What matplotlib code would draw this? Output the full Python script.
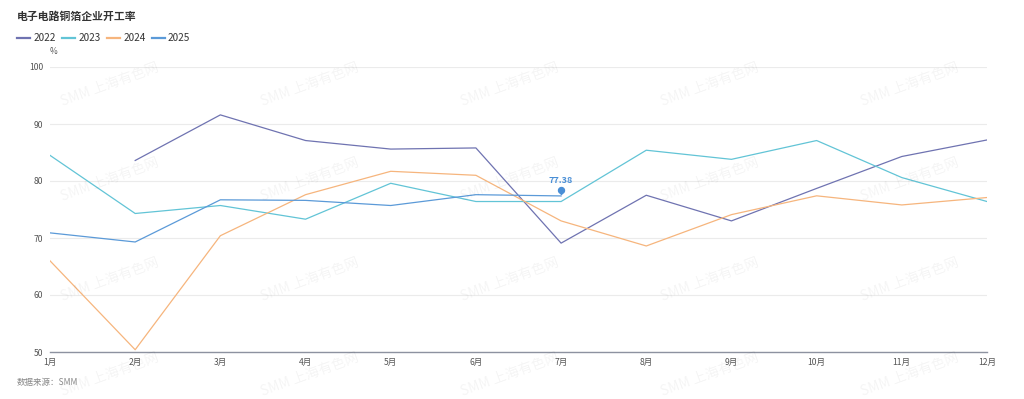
import numpy as np
import matplotlib
matplotlib.use("Agg")
import matplotlib.pyplot as plt
from matplotlib import transforms

plt.rcParams['font.family'] = ['Noto Sans CJK SC', 'DejaVu Sans']

months = ['1月', '2月', '3月', '4月', '5月', '6月', '7月', '8月', '9月', '10月', '11月', '12月']
series_names = ['2022', '2023', '2024', '2025']
v2022 = [np.nan, 83.6, 91.6, 87.1, 85.6, 85.8, 69.1, 77.5, 73.0, 78.7, 84.3, 87.2]
v2023 = [84.5, 74.3, 75.7, 73.3, 79.6, 76.4, 76.4, 85.4, 83.8, 87.1, 80.6, 76.4]
v2024 = [66.0, 50.4, 70.4, 77.6, 81.7, 81.0, 73.0, 68.6, 74.1, 77.4, 75.8, 77.1]
v2025 = [70.9, 69.3, 76.7, 76.6, 75.7, 77.6, 77.38]
colors = ['#6f73b1', '#62c4d6', '#f6b57d', '#5b9ad8']
yticks = [50, 60, 70, 80, 90, 100]

W, H = 1024, 399
fig = plt.figure(figsize=(W / 100, H / 100), dpi=100)
ax = fig.add_axes([50 / W, (H - 352) / H, (987 - 50) / W, (352 - 67) / H])

# watermarks
for wy in [85, 180, 280, 375]:
    for wx in [110, 310, 510, 710, 910]:
        fig.text(wx / W, 1 - wy / H, 'SMM 上海有色网', rotation=20, fontsize=10,
                 color='#000000', alpha=0.045, ha='center', va='center', zorder=0)

x = np.arange(len(months))
all_vals = [v2022, v2023, v2024, v2025]
for name, vals, c in zip(series_names, all_vals, colors):
    ax.plot(x[:len(vals)], vals, color=c, lw=0.9, label=name, zorder=3)

# highlighted point
px, py = 6, v2025[-1]
trans = transforms.offset_copy(ax.transData, fig=fig, x=0, y=2.5, units='points')
ax.plot([px], [py], marker='v', ms=3.2, color='#4a8fd6', transform=trans, zorder=5)
trans2 = transforms.offset_copy(ax.transData, fig=fig, x=0, y=4.5, units='points')
ax.plot([px], [py], marker='o', ms=4.3, color='#4a8fd6', transform=trans2, zorder=5)
ax.annotate(f'{py:.2f}', (px, py), xytext=(0, 8), textcoords='offset points',
            ha='center', va='bottom', fontsize=6.5, fontweight='bold', color='#4a8fd6')

ax.set_xlim(0, 11)
ax.set_ylim(50, 100)
ax.set_yticks(yticks)
ax.set_xticks(x)
ax.set_xticklabels(months)
ax.grid(axis='y', color='#ebebeb', lw=0.8)
ax.set_axisbelow(True)
for s in ['top', 'right', 'left']:
    ax.spines[s].set_visible(False)
ax.spines['bottom'].set_color('#8d92a0')
ax.spines['bottom'].set_linewidth(1.0)
ax.tick_params(axis='both', length=0, labelsize=6.2, colors='#555555')
ax.tick_params(axis='y', pad=5)
ax.tick_params(axis='x', pad=4)
ax.patch.set_alpha(0)

fig.text(17 / W, 1 - 17 / H, '电子电路铜箔企业开工率', fontsize=7.8, fontweight='bold',
         color='#333333', ha='left', va='center')
fig.text(53 / W, 1 - 52 / H, '%', fontsize=6.0, color='#555555', ha='center', va='center')
fig.text(17 / W, 1 - 382 / H, '数据来源：SMM', fontsize=6.1, color='#888888',
         style='italic', ha='left', va='center')

leg = ax.legend(loc='center left', bbox_to_anchor=(17 / W, 1 - 38 / H), bbox_transform=fig.transFigure,
                ncol=4, frameon=False, fontsize=7.2, handlelength=1.3, handletextpad=0.35,
                columnspacing=0.6, labelcolor='#333333', borderaxespad=0, borderpad=0)
for ln in leg.get_lines():
    ln.set_linewidth(1.6)

fig.savefig('out.png', dpi=100)
